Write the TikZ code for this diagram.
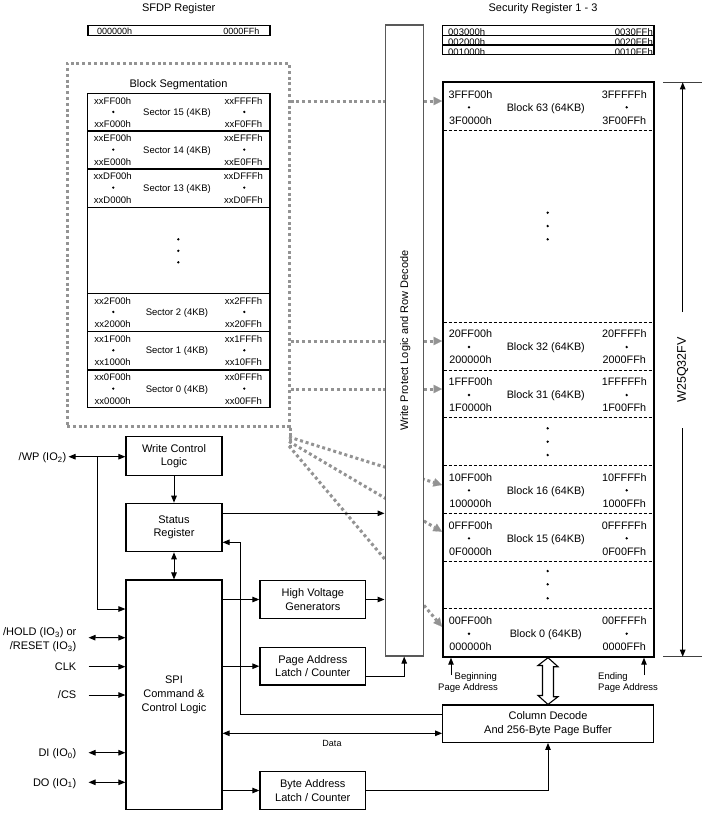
\documentclass[tikz,border=0pt]{standalone}
\usepackage{fontspec}
\setmainfont{Liberation Sans}
\usetikzlibrary{arrows.meta,calc}
\definecolor{dotgray}{HTML}{939393}
\newcommand\myfs[2]{\fontsize{#1}{#2}\selectfont}
\begin{document}
\begin{tikzpicture}[x=1pt,y=-1pt,
  box/.style={draw, line width=1.2pt, fill=white, inner sep=0pt, align=center, font=\myfs{11}{13.5}},
  tl/.style={inner sep=0pt, font=\myfs{11}{13.5}, text height=7.9pt, text depth=0pt},
  ttl/.style={inner sep=0pt, font=\myfs{11}{13.5}, text height=7.9pt, text depth=0pt},
  ad/.style={inner sep=0pt, font=\myfs{9.5}{11}, text height=6.8pt, text depth=0pt},
  sad/.style={inner sep=0pt, font=\myfs{9}{11}, text height=6.5pt, text depth=0pt},
  bd/.style={inner sep=0pt, font=\myfs{10.8}{13}, text height=7.8pt, text depth=0pt},
  arr/.style={line width=1pt, -{Triangle[length=7pt,width=5.5pt]}},
  darr/.style={line width=1pt, {Triangle[length=7pt,width=5.5pt]}-{Triangle[length=7pt,width=5.5pt]}},
  gdot/.style={draw=dotgray, line width=3pt, dash pattern=on 3pt off 2.8pt},
  garr/.style={gdot, -{Triangle[length=8.5pt,width=8.5pt,line width=0.1pt,fill=dotgray,color=dotgray]}},
  sep/.style={line width=0.8pt, dash pattern=on 3pt off 2pt},
]
\useasboundingbox (0,0) rectangle (704,815);

% ---------- titles ----------
\node[ttl] (sfdpt) at (178.7,7.5) {SFDP Register};
\node[ttl] (sect) at (543,7.5) {Security Register 1 - 3};

% ---------- SFDP register ----------
\draw[line width=1.2pt] (88,25.7) rectangle (270,35.3);
\node[sad, anchor=west] (sfdpa) at (97,31.2) {000000h};
\node[sad, anchor=east] (sfdpb) at (259.5,31.2) {0000FFh};

% ---------- Security registers ----------
\draw[line width=1.2pt] (442.7,25.3) rectangle (654,54.3);
\draw[line width=1.2pt] (442.7,35.7) -- (654,35.7);
\draw[line width=1.2pt] (442.7,45) -- (654,45);
\foreach \t/\d in {25.3/3, 35.7/2, 45/1} {
  \node[ad, anchor=west] (sr\d a) at (448,\t+6.6) {00\d 000h};
  \node[ad, anchor=east] (sr\d b) at (653,\t+6.6) {00\d 0FFh};
}

% ---------- Block segmentation frame ----------
\node[gdot, minimum width=222pt, minimum height=363pt, inner sep=0pt] (seg) at (178,244.5) {};
\draw[gdot] (seg.south east) -- ++(0,21);
\node[ttl] (segt) at (178.5,83.3) {Block Segmentation};

% sector table
\draw[line width=1.4pt] (87.7,93.3) rectangle (270,407.7);
\foreach \y in {131,169,207.3,293.3,331.7,370} {
  \draw[line width=1.4pt] (87.7,\y) -- (270,\y);
}
\foreach \t/\d/\n in {93.3/F/15, 131/E/14, 169/D/13, 293.3/2/2, 331.7/1/1, 370/0/0} {
  \node[ad] (s\n-tl) at (112.7,\t+7.4) {xx\d F00h};
  \node[ad] (s\n-bl) at (112.7,\t+30.7) {xx\d 000h};
  \node[ad] (s\n-tr) at (243.5,\t+7.4) {xx\d FFFh};
  \node[ad] (s\n-br) at (243.5,\t+30.7) {xx\d 0FFh};
  \node[ad] (s\n-m) at (177,\t+18.6) {Sector {\n} (4KB)};
  \fill (113.3,\t+18.6) circle (1.3pt);
  \fill (244.3,\t+18.6) circle (1.3pt);
}
\foreach \y in {239.3,250.8,262.3} { \fill (178.3,\y) circle (1.3pt); }

% ---------- Memory array ----------
\node[draw, line width=2pt, fill=white, minimum width=211pt, minimum height=574.4pt, inner sep=0pt] (blocks) at (548.5,369.5) {};
\foreach \y in {130.7,322,370,417.7,465.3,513.3,561,608.7} {
  \draw[sep] (443.5,\y) -- (653.5,\y);
}
\foreach \t/\p/\n in {82.3/3F/63, 322/20/32, 370/1F/31, 465.3/10/16, 513.3/0F/15, 608.7/00/0} {
  \node[bd] (b\n-tl) at (470.5,\t+12) {\p FF00h};
  \node[bd] (b\n-bl) at (470.5,\t+37.8) {\p 0000h};
  \node[bd] (b\n-tr) at (624.3,\t+12) {\p FFFFh};
  \node[bd] (b\n-br) at (624.3,\t+37.8) {\p 00FFh};
  \node[bd] (b\n-m) at (545.8,\t+25) {Block {\n} (64KB)};
  \fill (469,\t+25) circle (1.3pt);
  \fill (626.7,\t+25) circle (1.3pt);
}
\foreach \y in {212.7,226,239.3, 428.3,441.7,455, 571,584.3,598.3} { \fill (547.7,\y) circle (1.3pt); }

% ---------- gray dotted arrows ----------
\draw[garr] (seg.east |- 0,101) -- (blocks.west |- 0,101);
\draw[garr] (seg.east |- 0,341) -- (blocks.west |- 0,341);
\draw[garr] (seg.east |- 0,389) -- (blocks.west |- 0,389);
\coordinate (g1) at (289,437);
\coordinate (g2) at (289,441.5);
\coordinate (g3) at (289,446);
\draw[garr] (g1) -- (blocks.west |- 0,485);
\draw[garr] (g2) -- (blocks.west |- 0,531.7);
\draw[garr] (g3) -- (blocks.west |- 0,626.7);

% ---------- Write protect / row decode ----------
\node[draw=black!65, line width=1.1pt, fill=white, minimum width=38.3pt, minimum height=631pt, inner sep=0pt] (wp) at (404.2,340.5) {};
\node[tl, rotate=90] (wptxt) at (wp.center) {Write Protect Logic and Row Decode};

% ---------- dimension ----------
\draw[line width=1pt, draw=black!75] (663,82.3) -- (702,82.3);
\draw[line width=1pt, draw=black!75] (663,656.7) -- (702,656.7);
\node[inner sep=0pt, rotate=90, font=\myfs{12.5}{14}] (w25) at (682.7,370) {W25Q32FV};
\coordinate (dimt) at (682.7,312);
\coordinate (dimb) at (682.7,428);
\draw[arr] (dimt) -- (682.7,82.3);
\draw[arr] (dimb) -- (682.7,656.7);

% ---------- control blocks ----------
\node[box, minimum width=96pt, minimum height=38.3pt] (wcl) at (174,456) {Write Control\\Logic};
\node[box, minimum width=96pt, minimum height=48.4pt] (sr) at (174,527.5) {Status\\Register};
\node[box, minimum width=96pt, minimum height=229.3pt, font=\myfs{11}{13.8}] (spi) at (174,694.7) {SPI\\Command \&\\Control Logic};
\node[box, minimum width=105.7pt, minimum height=37.6pt] (hvg) at (312.8,599.5) {High Voltage\\Generators};
\node[box, minimum width=105.7pt, minimum height=37.7pt] (pal) at (312.8,666.2) {Page Address\\Latch / Counter};
\node[box, minimum width=105.7pt, minimum height=37.6pt] (bal) at (312.8,790.5) {Byte Address\\Latch / Counter};
\node[box, minimum width=210.6pt, minimum height=37.3pt] (cd) at (548,723.7) {Column Decode\\And 256-Byte Page Buffer};

% ---------- pin labels ----------
\node[tl, anchor=east] (wpl) at (66.5,456.7) {/WP (IO\textsubscript{2})};
\node[tl, anchor=east] (hold1) at (76.5,631.7) {/HOLD (IO\textsubscript{3}) or};
\node[tl, anchor=east] (hold2) at (76.5,646) {/RESET (IO\textsubscript{3})};
\node[tl, anchor=east] (clkl) at (76.5,666.7) {CLK};
\node[tl, anchor=east] (csl) at (76.5,695) {/CS};
\node[tl, anchor=east] (dil) at (76.5,752.7) {DI (IO\textsubscript{0})};
\node[tl, anchor=east] (dol) at (76.5,782.3) {DO (IO\textsubscript{1})};

% ---------- connectors ----------
\draw[darr] ([xshift=2pt]wpl.east) -- (wcl.west |- wpl.east);
\coordinate (wpj) at (97.3,456.7);
\draw[arr] (wpj) |- (spi.west |- 0,609);
\draw[darr] ($(hold1.east)!0.5!(hold2.east)+(12,-1.2)$) -- (spi.west |- 0,637.7);
\draw[arr] ([xshift=12pt]clkl.east) -- (spi.west |- clkl.east);
\draw[arr] ([xshift=12pt]csl.east) -- (spi.west |- csl.east);
\draw[darr] ([xshift=12pt]dil.east) -- (spi.west |- dil.east);
\draw[darr] ([xshift=12pt]dol.east) -- (spi.west |- dol.east);

\draw[arr] (wcl.south) -- (sr.north);
\draw[darr] (sr.south) -- (spi.north);
\draw[arr] (sr.east |- 0,513.3) -- (wp.west |- 0,513.3);
\draw[arr] (cd.west |- 0,714) -- (240.7,714) -- (240.7,542.3) -- (sr.east |- 0,542.3);
\draw[arr] (spi.east |- hvg.west) -- (hvg.west);
\draw[arr] (hvg.east) -- (wp.west |- hvg.east);
\draw[arr] (spi.east |- pal.west) -- (pal.west);
\draw[arr] (pal.east |- 0,676) -| (wp.south);
\draw[darr] (spi.east |- 0,733.3) -- (cd.west |- 0,733.3);
\node[sad] (datal) at (332,743.7) {Data};
\draw[arr] (spi.east |- bal.west) -- (bal.west);
\draw[arr] (bal.east) -| (cd.south);

% page address arrows
\coordinate (bpa) at (451,675);
\coordinate (epa) at (644,675);
\draw[arr] (bpa) -- (bpa |- blocks.south);
\draw[arr] (epa) -- (epa |- blocks.south);
\node[ad, anchor=west] (beg1) at (454.5,676) {Beginning};
\node[ad, anchor=west] (beg2) at (438,686.7) {Page Address};
\node[ad, anchor=west] (end1) at (598,676) {Ending};
\node[ad, anchor=west] (end2) at (598,686.7) {Page Address};

% hollow double arrow
\draw[line width=1.1pt, fill=white] (blocks.south -| cd.north) -- ++(10,9) -- ++(-4.5,0) -- ++(0,30) -- ++(4.5,0)
  -- (cd.north) -- ++(-10,-9) -- ++(4.5,0) -- ++(0,-30) -- ++(-4.5,0) -- cycle;

\end{tikzpicture}
\end{document}
